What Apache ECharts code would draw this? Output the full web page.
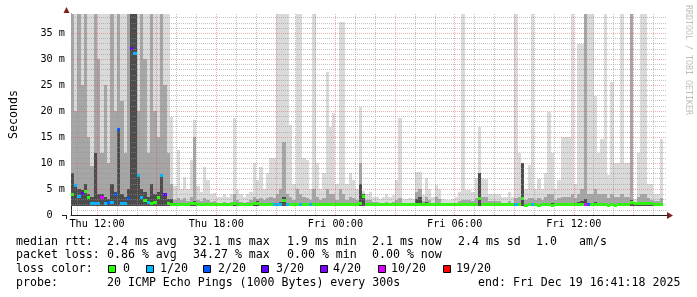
<!DOCTYPE html>
<html><head><meta charset="utf-8">
<script src="https://cdn.jsdelivr.net/npm/echarts@6.0.0/dist/echarts.min.js"></script>
<style>html,body{margin:0;padding:0;background:#fff}#c{width:697px;height:297px}</style>
</head><body><div id="c"></div>
<script>
// time in minutes since Thu 00:00; window Thu 10:41:18 .. Fri 16:41:18
const windowStart = 641.3;
const windowEnd = 2441.3;
const slotStart = 640;      // first slot begins Thu 10:40
const slotMinutes = 10;
const pingFloor = 1.8;      // lowest ping (ms)

// smoke: highest ping (ms) per slot
const smokeMax = [
38.7,38.7,38.7,38.7,38.7,38.7,38.7,38.7,38.7,38.7,
38.7,38.7,38.7,38.7,38.7,38.7,38.7,38.7,38.7,38.7,
38.7,38.7,38.7,38.7,38.7,38.7,38.7,38.7,38.7,38.7,
18.9,5.5,12.5,5,7.3,5,10.6,18.3,5.5,4.5,
9.2,6.7,4,4.2,3.5,3.5,4,3.5,4,18.7,
4.8,4,3.5,4,4.5,10,6.7,9.3,5,8,
11,11,38.7,38.7,38.7,38.7,17.3,6,38.7,38.7,
11,10.6,5,38.7,10,5,8,27.5,17,19.6,
6,37.2,37.2,6,8,6.7,5,20.8,4.7,4,
4.5,3.5,3.5,3,3.5,4,3.5,3.8,6.8,18.7,
3,3,3.2,3,8.3,8.3,3.8,7.1,5,3.5,
5.8,5,3,2.8,2.8,3,3.5,4.5,38.7,4.8,
4.8,4.5,7.1,17,7.1,7,4,4,4,4,
3.5,3.5,4.5,3.5,38.7,12,10,5,9.6,38.7,
5,7,5,8,19.8,12,5,6.7,15,15,
15,38.7,6,33,33,38.7,38.7,38.7,23,12,
14.6,38.7,7.7,25.6,10,10,38.7,10,10,38.7,
3,12,38.7,38.7,6,6,4,4,14.7,null];

// smoke: upper-middle pings (ms)
const smokeMid = [
38.7,20,38.7,25,38.7,15,9.5,38.7,30,12,
25,10,38.7,20,38.7,22,12,38.7,38.7,38.7,
20,38.7,30,12,38.7,20,15,38.7,25,12,
6,2.8,3.2,2.8,3.2,2.7,3.5,15,2.9,2.6,
3.2,2.8,2.5,2.6,2.4,2.4,2.5,2.4,2.5,4,
2.8,2.5,2.4,2.5,2.8,3.5,3,3.2,2.8,3.2,
3.5,3.2,4,5,14,4,3.5,2.8,5,4,
3.5,3.2,2.8,5,3.5,2.8,3.2,5,4,4,
2.8,5,4,2.8,3.5,3.2,2.8,10,4,2.8,
2.8,2.5,2.5,2.4,2.4,2.5,2.4,2.5,2.8,3.2,
2.3,2.3,2.4,2.3,4.5,5,2.6,3.5,2.8,2.4,
3.5,3,2.3,2.3,2.3,2.3,2.4,2.6,2.8,2.8,
2.8,2.6,3.2,8,3.5,3.5,2.6,2.6,2.6,2.6,
2.4,2.4,2.6,2.4,3.2,3.5,10,2.8,3.2,3.2,
2.8,3.2,2.8,3.5,4,4,2.8,3.2,3.5,3.5,
3.5,4,3.2,4,5,38.7,4,4,5,4,
4,4,3.2,4,3.5,3.5,4,3.5,3.5,38.7,
2.5,3.5,4,4,3.2,2.8,2.6,2.6,3.2,null];

// smoke: pings closest to the median (ms)
const smokeDark = [
8,5.5,5,4.8,6,4,3.5,12,4,4,
3.5,3,6,4.5,16.4,4,3.5,5,38.7,38.7,
7.7,5,4.5,3.5,6,4,4.5,7.6,4,3,
3,2.1,2.1,2.1,2.1,2.1,2.1,2.6,2.1,2.1,
2.1,2.1,2.1,2.1,2.1,2.1,2.1,2.1,2.1,2.1,
2.1,2.1,2.1,2.1,2.1,2.1,2.6,2.1,2.1,2.1,
2.1,2.1,2.1,2.5,3.5,2.1,2.1,2.1,2.3,2.1,
2.1,2.1,2.1,2.1,2.1,2.1,2.1,2.1,2.1,2.1,
2.1,2.3,2.1,2.1,2.1,2.1,2.1,6,4,2.1,
2.1,2.1,2.1,2.1,2.1,2.1,2.1,2.1,2.1,2.1,
2.1,2.1,2.1,2.1,3,3.5,2.1,2.5,2.1,2.1,
2.4,2.1,2.1,2.1,2.1,2.1,2.1,2.1,2.1,2.1,
2.1,2.1,2.1,8,2.1,2.1,2.1,2.1,2.1,2.1,
2.1,2.1,2.1,2.1,2.1,2.1,10,2.1,2.1,2.1,
2.1,2.1,2.1,2.1,2.3,2.3,2.1,2.1,2.3,2.3,
2.3,2.4,2.1,2.5,2.7,3,2.4,2.4,2.5,2.4,
2.4,2.3,2.1,2.4,2.2,2.2,2.3,2.2,2.2,2.8,
2.1,2.1,2.2,2.2,2.1,2.1,2.1,2.1,2.1,null];

// median rtt (ms)
const medianRtt = [
3.9,5.6,3.6,4.2,4.5,3.3,2.3,2.3,2.3,3.3,
2.3,2.4,2.5,4.0,16.5,2.3,2.3,3.1,32.0,31.1,
7.7,3.3,2.8,2.5,2.3,2.4,3.3,7.7,3.9,2.3,
2.1,2.1,2.1,2.1,2.1,2.1,2.2,2.2,2.1,2.1,
2.1,2.1,2.1,2.1,2.1,2.1,2.1,2.1,2.1,2.2,
2.1,2.1,2.1,2.1,2.1,2.2,2.2,2.1,2.1,2.1,
2.1,2.1,2.1,2.1,2.7,2.1,2.1,2.1,2.1,2.1,
2.1,2.1,2.1,2.1,2.1,2.1,2.1,2.1,2.1,2.1,
2.1,2.1,2.1,2.1,2.1,2.1,2.1,2.2,3.5,2.1,
2.1,2.1,2.1,2.1,2.0,2.0,2.1,2.0,2.1,2.1,
2.1,2.1,2.1,2.1,2.1,2.1,2.1,2.1,2.1,2.1,
2.1,2.1,2.1,2.1,2.1,2.1,2.1,2.1,2.1,2.1,
2.0,2.1,2.1,3.2,2.1,2.1,2.1,2.1,2.1,2.1,
2.1,2.1,2.1,2.1,2.1,2.1,3.1,1.9,2.1,2.1,
2.1,1.9,2.1,2.1,2.1,1.9,2.1,2.1,2.1,2.1,
2.1,2.1,2.1,2.1,2.1,2.1,2.1,2.1,2.1,2.1,
2.1,2.1,1.9,2.0,1.9,2.0,2.1,2.1,2.1,2.5,
2.2,2.2,2.3,2.3,2.3,2.2,2.1,2.1,2.1,null];

// lost pings out of 20
const lossCount = [
0,1,1,3,0,0,1,1,1,10,
1,2,1,2,2,1,1,2,3,1,
1,1,0,1,0,0,0,1,3,0,
0,0,0,0,0,0,0,0,0,0,
0,0,0,0,0,0,0,0,0,0,
0,0,0,0,0,0,0,0,0,0,
0,1,1,1,0,1,0,0,0,1,
0,0,1,0,0,0,0,0,0,0,
0,0,0,0,0,0,0,0,0,0,
0,0,0,0,0,0,0,0,0,0,
0,0,0,0,0,0,0,0,0,0,
0,0,0,0,0,0,0,0,0,0,
0,0,0,0,0,0,0,0,0,0,
0,0,0,0,1,0,0,0,0,1,
0,0,0,0,0,0,0,0,0,0,
0,0,0,0,0,10,2,0,0,0,
0,0,0,0,0,0,0,0,0,0,
0,0,0,0,0,0,0,0,0,null];

const xTickMinutes = [720, 1080, 1440, 1800, 2160];
const xTickLabels = ['Thu 12:00', 'Thu 18:00', 'Fri 00:00', 'Fri 06:00', 'Fri 12:00'];
const yTickValues = [0, 5, 10, 15, 20, 25, 30, 35];
const yTickLabels = ['0  ', ' 5 m', '10 m', '15 m', '20 m', '25 m', '30 m', '35 m'];
const yMax = 38.7;

const lossLevels = [0, 1, 2, 3, 4, 10, 19];
const lossLabels = ['0', '1/20', '2/20', '3/20', '4/20', '10/20', '19/20'];
const lossColors = ['#26ff00', '#00b8ff', '#0059ff', '#5e00ff', '#7e00ff', '#dd00ff', '#ff0000'];

const shades = { light: '#dadada', mid: '#a6a6a6', dark: '#4c4c4c' };
const MONO = '"DejaVu Sans Mono", monospace';

function lossColor(c) {
  let col = lossColors[0];
  for (let k = 0; k < lossLevels.length; k++) if (c >= lossLevels[k]) col = lossColors[k];
  return col;
}

const slotData = [];
for (let i = 0; i < smokeMax.length; i++) {
  if (smokeMax[i] == null) continue;
  const t0 = slotStart + i * slotMinutes, t1 = t0 + slotMinutes;
  slotData.push([t0, t1, smokeDark[i], smokeMid[i], smokeMax[i], medianRtt[i], lossCount[i]]);
}

// grid lines
const gridMinor = { color: 'rgba(143,143,143,0.55)', width: 1, type: [1, 1] };
const gridMajor = { color: 'rgba(222,79,79,0.45)', width: 1, type: [1, 1] };
const gridLines = [];
for (let v = 1; v < yMax; v++) gridLines.push({ yAxis: v, lineStyle: v % 5 ? gridMinor : gridMajor });
for (let m = 660; m < windowEnd; m += 60) gridLines.push({ xAxis: m, lineStyle: m % 180 ? gridMinor : gridMajor });

const chart = echarts.init(document.getElementById('c'), null, { renderer: 'canvas' });

const legendRows = [
  { y: 241.7, parts: [[16, 'median rtt:'], [107, '2.4 ms avg'], [193, '32.1 ms max'], [287, '1.9 ms min'], [372, '2.1 ms now'], [458, '2.4 ms sd'], [536, '1.0'], [579, 'am/s']] },
  { y: 255, parts: [[16, 'packet loss:'], [107, '0.86 % avg'], [193, '34.27 % max'], [287, '0.00 % min'], [372, '0.00 % now']] },
  { y: 269, parts: [[16, 'loss color:']] },
  { y: 283.3, parts: [[16, 'probe:'], [107, '20 ICMP Echo Pings (1000 Bytes) every 300s'], [478, 'end: Fri Dec 19 16:41:18 2025']] }
];
const boxX = [108, 146, 203, 261, 320, 378, 443];
const boxLabelX = [123, 160, 218, 276, 333, 391, 456];

const graphics = [];
legendRows.forEach(r => r.parts.forEach(p => graphics.push({
  type: 'text', x: p[0], y: r.y, silent: true,
  style: { text: p[1], font: '11.6px ' + MONO, fill: '#000', textVerticalAlign: 'middle', verticalAlign: 'middle' }
})));
lossLabels.forEach((lab, k) => {
  graphics.push({ type: 'rect', silent: true, shape: { x: boxX[k] + 0.5, y: 265.5, width: 7, height: 7 }, style: { fill: lossColors[k], stroke: '#000', lineWidth: 1 } });
  graphics.push({ type: 'text', x: boxLabelX[k], y: 269, silent: true, style: { text: lab, font: '11.6px ' + MONO, fill: '#000', textVerticalAlign: 'middle', verticalAlign: 'middle' } });
});
graphics.push({ type: 'text', x: 688, y: 5, rotation: -Math.PI / 2, silent: true,
  style: { text: 'RRDTOOL / TOBI OETIKER', font: '8.3px ' + MONO, fill: '#bdbdbd', textVerticalAlign: 'middle', verticalAlign: 'middle' } });
graphics.push({ type: 'polygon', silent: true, shape: { points: [[63.5, 13], [69.5, 13], [66.5, 7]] }, style: { fill: '#801f1f' } });
graphics.push({ type: 'polygon', silent: true, shape: { points: [[667, 212], [667, 219], [673, 215.5]] }, style: { fill: '#801f1f' } });
graphics.push({ type: 'line', silent: true, shape: { x1: 62, y1: 215.5, x2: 66, y2: 215.5 }, style: { stroke: '#1f1f1f', lineWidth: 1 } });
graphics.push({ type: 'line', silent: true, shape: { x1: 66.5, y1: 215, x2: 66.5, y2: 219 }, style: { stroke: '#1f1f1f', lineWidth: 1 } });

chart.setOption({
  animation: false,
  backgroundColor: '#ffffff',
  grid: { left: 66, right: 30, top: 14, bottom: 82, containLabel: false },
  xAxis: {
    type: 'value', min: windowStart, max: windowEnd,
    axisLine: { show: true, onZero: false, lineStyle: { color: '#1f1f1f', width: 1 } },
    axisTick: { show: false },
    splitLine: { show: false },
    axisLabel: {
      customValues: xTickMinutes, margin: 4, color: '#000', fontFamily: MONO, fontSize: 10.2,
      formatter: v => { const k = xTickMinutes.indexOf(Math.round(v)); return k >= 0 ? xTickLabels[k] : ''; }
    }
  },
  yAxis: {
    type: 'value', min: 0, max: yMax, interval: 5,
    name: 'Seconds', nameLocation: 'middle', nameRotate: 90, nameGap: 51,
    nameTextStyle: { color: '#000', fontFamily: MONO, fontSize: 11.6 },
    axisLine: { show: true, lineStyle: { color: '#1f1f1f', width: 1 } },
    axisTick: { show: false },
    splitLine: { show: false },
    axisLabel: {
      customValues: yTickValues, margin: 6, color: '#000', fontFamily: MONO, fontSize: 10.2,
      formatter: v => { const k = yTickValues.indexOf(Math.round(v * 1000) / 1000); return k >= 0 ? yTickLabels[k] : ''; }
    }
  },
  series: [
    {
      type: 'custom', name: 'smoke and median', z: 2, clip: true, silent: true,
      data: slotData, encode: { x: [0, 1], y: [2, 3, 4, 5] },
      renderItem: (params, api) => {
        const x0 = api.value(0), x1 = api.value(1);
        const left = Math.round(api.coord([x0, 0])[0]);
        const right = Math.round(api.coord([x1, 0])[0]);
        const bottom = Math.round(api.coord([x0, pingFloor])[1]);
        const layers = [[api.value(4), shades.light], [api.value(3), shades.mid], [api.value(2), shades.dark]];
        const children = [];
        layers.forEach(([v, c]) => {
          if (!(v > pingFloor)) return;
          const top = Math.round(api.coord([x0, Math.min(v, yMax)])[1]);
          children.push({ type: 'rect', shape: { x: left, y: top, width: right - left, height: bottom - top }, style: { fill: c } });
        });
        const m = api.value(5), lc = api.value(6);
        const my = Math.round(api.coord([x0, m])[1] - 1.5);
        children.push({ type: 'rect', z2: 50, shape: { x: left, y: my, width: right - left, height: 3 }, style: { fill: lossColor(lc) } });
        return { type: 'group', children };
      }
    },
    {
      type: 'line', name: 'grid', z: 1, silent: true, data: [], symbol: 'none',
      markLine: { silent: true, symbol: ['none', 'none'], label: { show: false }, animation: false, z: 3, data: gridLines }
    }
  ],
  graphic: { elements: graphics }
});
</script>
</body></html>
